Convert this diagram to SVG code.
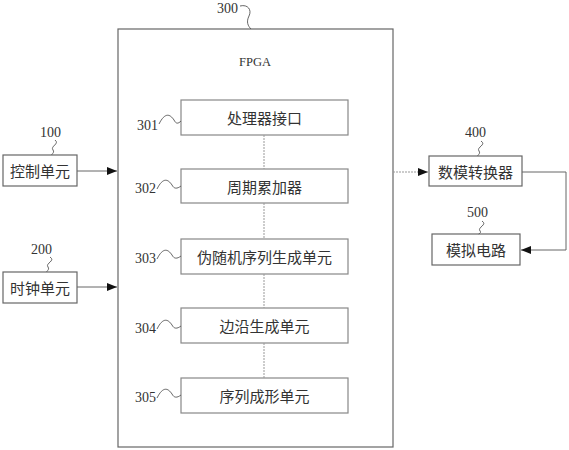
<svg xmlns="http://www.w3.org/2000/svg" width="569" height="450" viewBox="0 0 569 450">
<style>
.box{fill:#fff;stroke:#666;stroke-width:1.2}
.ibox{fill:#fff;stroke:#888;stroke-width:1.2}
.t{font-family:"Noto Sans CJK SC","Liberation Serif",serif;font-size:15px;fill:#333;text-anchor:middle;dominant-baseline:central}
.n{font-family:"Liberation Serif",serif;font-size:14px;fill:#333}
.sq{fill:none;stroke:#555;stroke-width:0.9}
.c{fill:none;stroke:#666;stroke-width:1}
.v{fill:none;stroke:#999;stroke-width:1;stroke-dasharray:2 1}
</style>
<defs>
<marker id="ah" markerWidth="10" markerHeight="8" refX="10" refY="4" orient="auto" markerUnits="userSpaceOnUse">
<path d="M0,0 L10,4 L0,8 Z" fill="#111"/>
</marker>
</defs>
<g id="fpga">
<rect class="box" x="118" y="29" width="275" height="418"/>
<text x="255" y="66" font-family="Liberation Serif,serif" font-size="12.5" fill="#333" text-anchor="middle">FPGA</text>
<text class="n" x="217" y="13">300</text>
<path class="sq" d="M240,6 C248,4 252,10 249,16 C246,22 248,26 251,29"/>
</g>
<g id="n301">
<rect class="ibox" x="181" y="100" width="167" height="35"/>
<text class="t" x="264.5" y="117.5">处理器接口</text>
<text class="n" x="137" y="130">301</text>
<path class="sq" d="M159,124 C165,112 170,114 174,120 C176,124 178,124 181,121"/>
</g>
<g id="n302">
<rect class="ibox" x="181" y="169" width="167" height="34"/>
<text class="t" x="264.5" y="186">周期累加器</text>
<text class="n" x="135" y="193">302</text>
<path class="sq" d="M157,189 C163,177 168,179 172,185 C174,189 177,189 181,186"/>
</g>
<g id="n303">
<rect class="ibox" x="181" y="239" width="167" height="35"/>
<text class="t" x="264.5" y="256.5">伪随机序列生成单元</text>
<text class="n" x="135" y="263">303</text>
<path class="sq" d="M157,259 C163,247 168,249 172,255 C174,259 177,259 181,256"/>
</g>
<g id="n304">
<rect class="ibox" x="181" y="308" width="167" height="35"/>
<text class="t" x="264.5" y="325.5">边沿生成单元</text>
<text class="n" x="135" y="333">304</text>
<path class="sq" d="M157,329 C163,317 168,319 172,325 C174,329 177,329 181,326"/>
</g>
<g id="n305">
<rect class="ibox" x="181" y="378" width="167" height="35"/>
<text class="t" x="264.5" y="395.5">序列成形单元</text>
<text class="n" x="135" y="402">305</text>
<path class="sq" d="M157,398 C163,386 168,388 172,394 C174,398 177,398 181,395"/>
</g>
<g id="n100">
<rect class="box" x="3" y="155" width="74" height="31"/>
<text class="t" x="40" y="170.5">控制单元</text>
<text class="n" x="40" y="137">100</text>
<path class="sq" d="M55,140 C60,144 50,146 53,150 C55,153 51,154 52,155"/>
</g>
<g id="n200">
<rect class="box" x="3" y="272" width="74" height="31"/>
<text class="t" x="40" y="287.5">时钟单元</text>
<text class="n" x="31" y="254">200</text>
<path class="sq" d="M50,257 C56,261 45,263 48,267 C50,270 46,271 47,272"/>
</g>
<g id="n400">
<rect class="box" x="429" y="156" width="93" height="30"/>
<text class="t" x="475.5" y="171">数模转换器</text>
<text class="n" x="465" y="137">400</text>
<path class="sq" d="M481,141 C487,145 476,147 479,151 C481,154 477,155 478,156"/>
</g>
<g id="n500">
<rect class="box" x="432" y="234" width="88" height="31"/>
<text class="t" x="476" y="249.5">模拟电路</text>
<text class="n" x="467" y="217">500</text>
<path class="sq" d="M482,221 C488,225 477,227 480,231 C482,233 478,234 479,234"/>
</g>
<g id="connectors">
<path class="c" d="M77,171 H117" marker-end="url(#ah)"/>
<path class="c" d="M77,287 H117" marker-end="url(#ah)"/>
<path class="v" d="M393,172 H428" marker-end="url(#ah)"/>
<path class="c" d="M522,172 H566 V250 H521" marker-end="url(#ah)"/>
<path class="v" d="M264,135 V169"/>
<path class="v" d="M264,203 V239"/>
<path class="v" d="M264,274 V308"/>
<path class="v" d="M264,343 V378"/>
</g>
</svg>
